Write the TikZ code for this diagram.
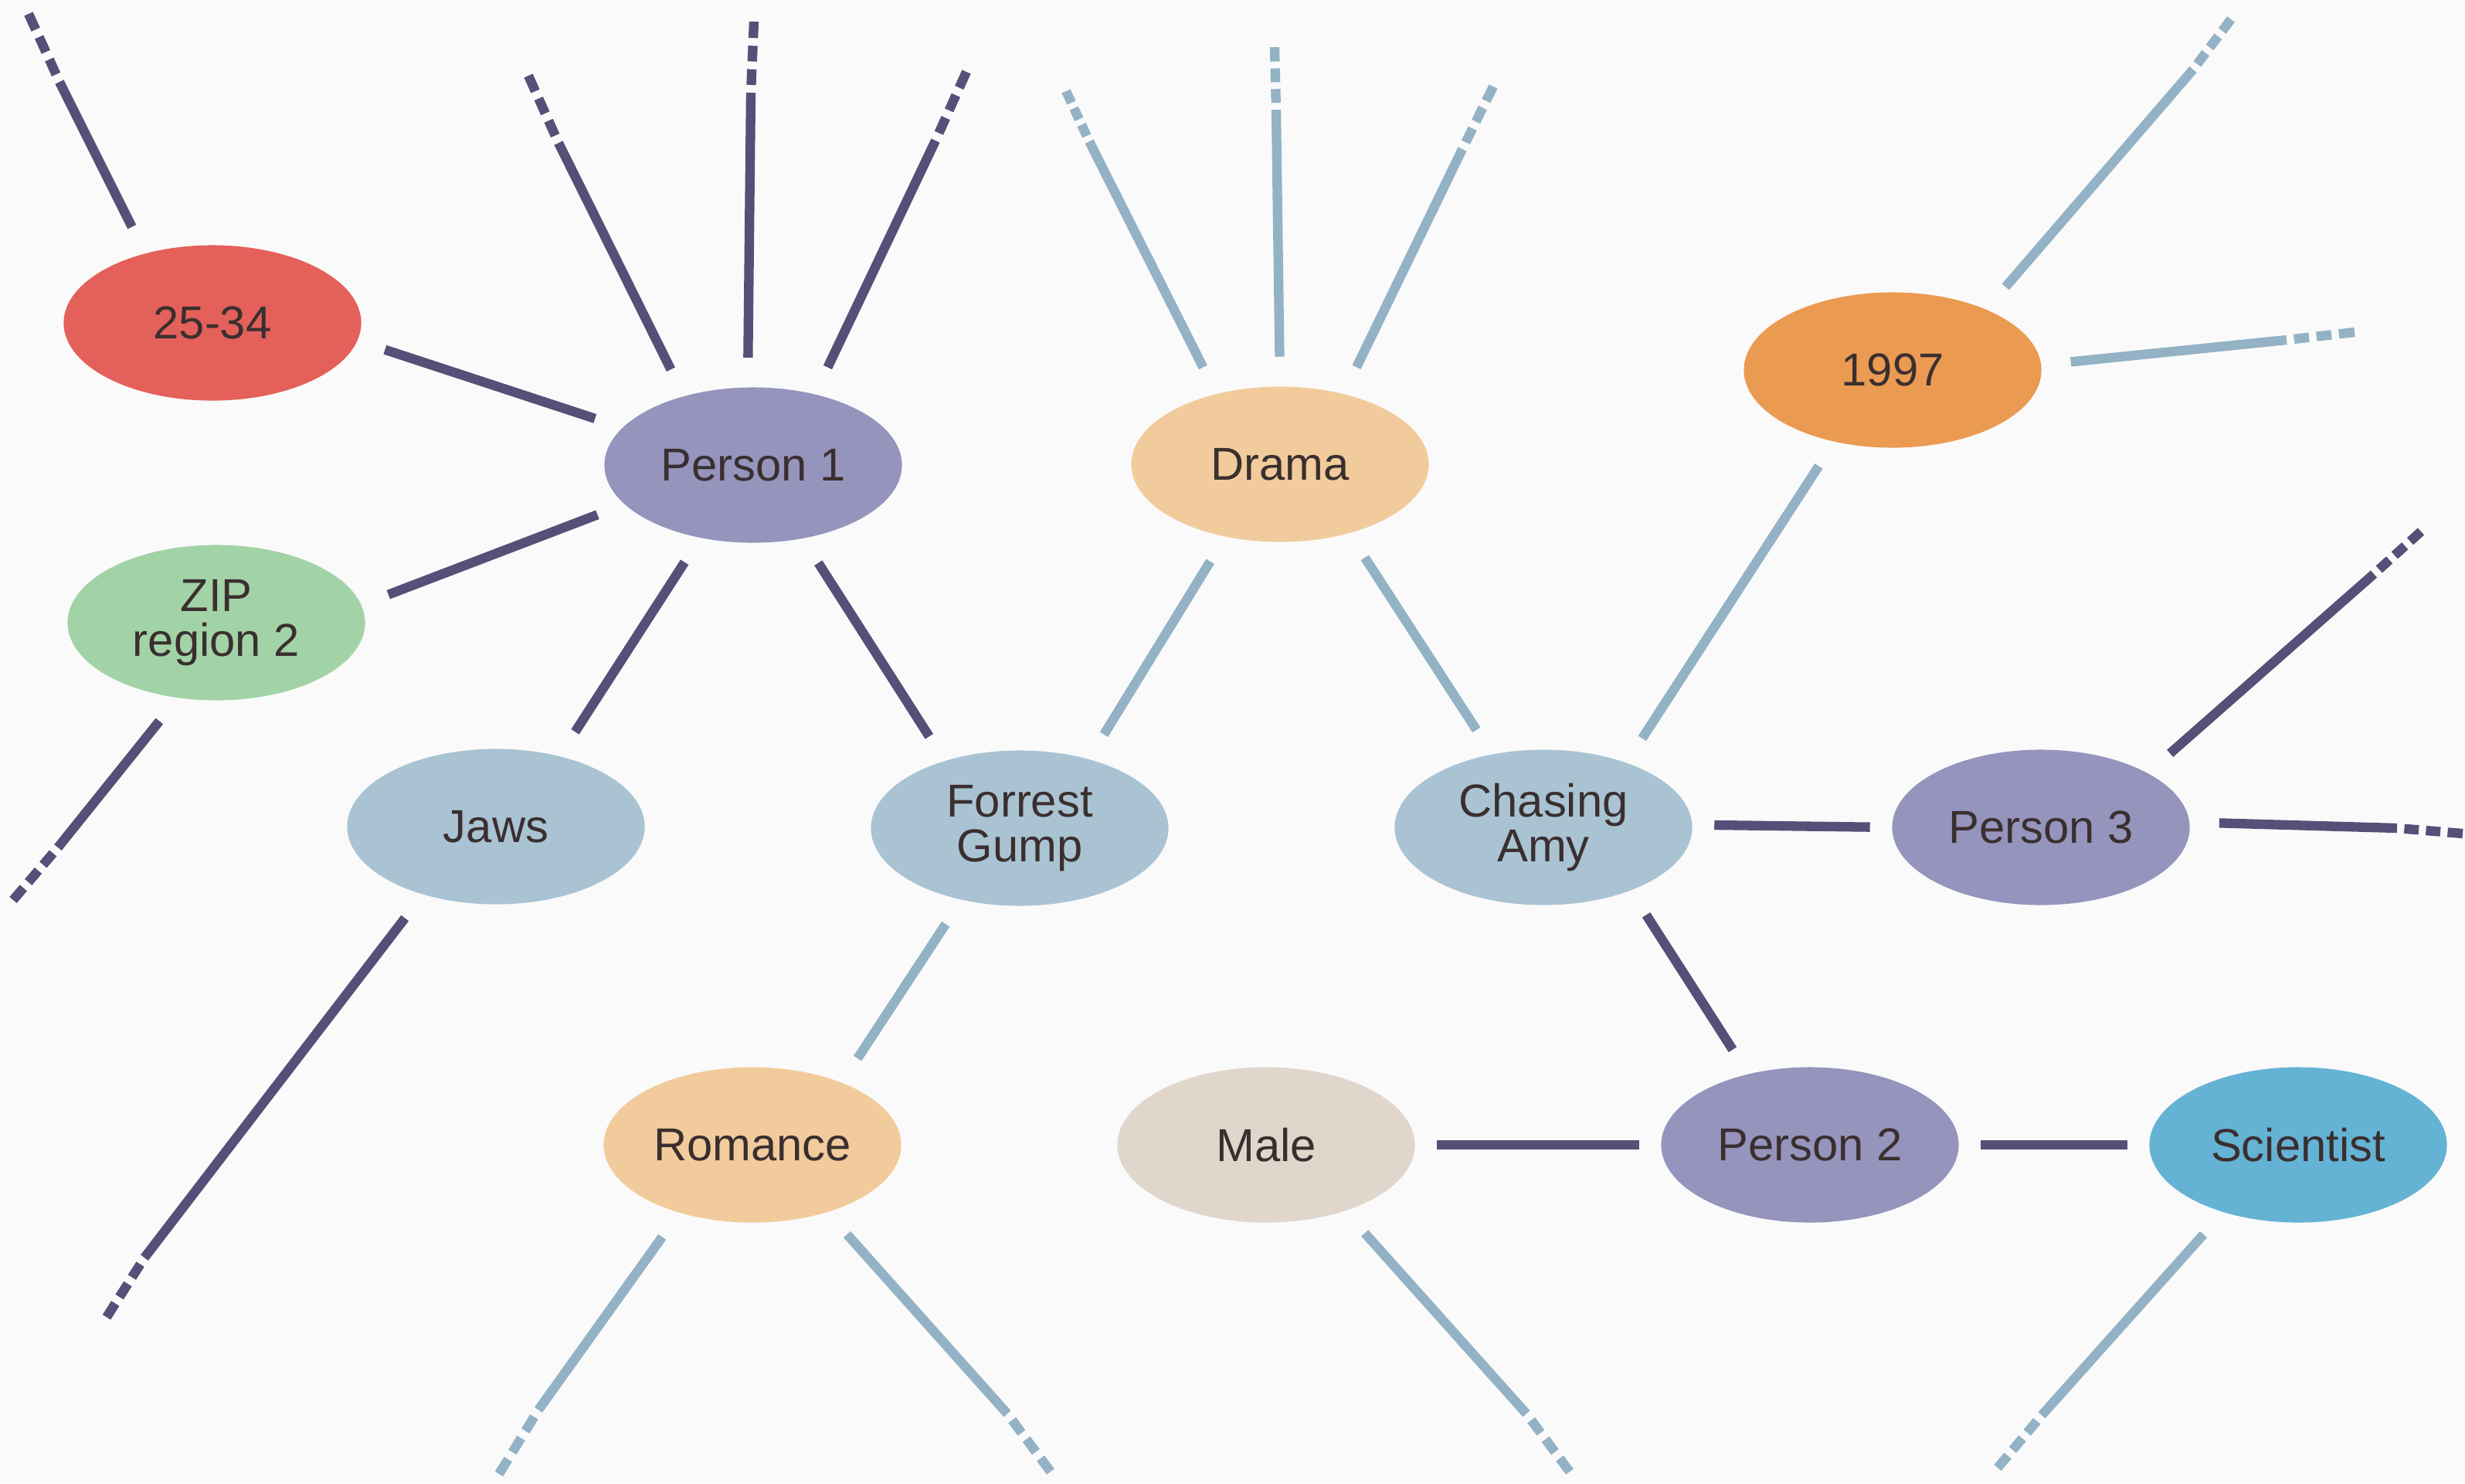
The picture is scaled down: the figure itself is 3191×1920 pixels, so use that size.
\documentclass[tikz,border=0pt]{standalone}
\usepackage{fontspec}
\setmainfont{Liberation Sans}
\usetikzlibrary{shapes.geometric,calc}
\definecolor{bgc}{RGB}{250,250,250}
\definecolor{darkln}{RGB}{84,80,119}
\definecolor{lightln}{RGB}{147,178,197}
\definecolor{txtc}{RGB}{58,47,47}
\definecolor{cred}{RGB}{228,96,90}
\definecolor{cpurple}{RGB}{149,148,189}
\definecolor{cgreen}{RGB}{162,211,166}
\definecolor{cmovie}{RGB}{169,195,211}
\definecolor{cgenre}{RGB}{242,203,156}
\definecolor{corange}{RGB}{235,154,82}
\definecolor{cmale}{RGB}{224,214,204}
\definecolor{csci}{RGB}{100,179,212}
\tikzset{
  ent/.style={ellipse, minimum width=3.85cm, minimum height=2.01cm, inner sep=0pt,
    draw=none, text=txtc, align=center, font=\fontsize{17}{16.5}\selectfont},
  dk/.style={draw=darkln, line width=3.5pt},
  lt/.style={draw=lightln, line width=3.5pt},
  edgegap/.style={shorten <=0.37cm, shorten >=0.37cm},
  hedgegap/.style={shorten <=0.28cm, shorten >=0.28cm},
  stubgap/.style={shorten <=0.38cm},
}
\newcommand{\dashtail}[3]{%
  \draw[#1] ($(#2)!0.11!(#3)$) -- ($(#2)!0.33!(#3)$)
            ($(#2)!0.44!(#3)$) -- ($(#2)!0.66!(#3)$)
            ($(#2)!0.77!(#3)$) -- (#3);}
\begin{document}
\begin{tikzpicture}[x=0.01cm, y=-0.01cm]
\fill[bgc] (0,0) rectangle (3191,1920);
\useasboundingbox (0,0) rectangle (3191,1920);

% nodes
\node[ent, fill=cred]    (n2534)   at (275,418)  {25-34};
\node[ent, fill=cpurple] (pone)    at (975,602)  {Person 1};
\node[ent, fill=cgreen]  (zip)     at (280,806)  {ZIP\\region 2};
\node[ent, fill=cmovie]  (jaws)    at (642,1070) {Jaws};
\node[ent, fill=cmovie]  (forrest) at (1320,1072) {Forrest\\Gump};
\node[ent, fill=cgenre]  (romance) at (974,1482) {Romance};
\node[ent, fill=cgenre]  (drama)   at (1657,601) {Drama};
\node[ent, fill=cmovie]  (chasing) at (1998,1071) {Chasing\\Amy};
\node[ent, fill=corange] (yr)      at (2450,479) {1997};
\node[ent, fill=cpurple] (pthree)  at (2642,1071) {Person 3};
\node[ent, fill=cmale]   (male)    at (1639,1482) {Male};
\node[ent, fill=cpurple] (ptwo)    at (2343,1482) {Person 2};
\node[ent, fill=csci]    (sci)     at (2975,1482) {Scientist};

% edges
\draw[dk,edgegap] (n2534.-7) -- (pone.164);
\draw[dk,edgegap] (zip.7) -- (pone.197);
\draw[dk,edgegap] (jaws.48) -- (pone.234);
\draw[dk,edgegap] (forrest.138) -- (pone.-56);
\draw[dk,hedgegap] (chasing.1) -- (pthree.180);
\draw[dk,edgegap] (chasing.-36) -- (ptwo.131);
\draw[dk,hedgegap] (male.0) -- (ptwo.180);
\draw[dk,hedgegap] (ptwo.0) -- (sci.180);
\draw[lt,edgegap] (drama.233) -- (forrest.45);
\draw[lt,edgegap] (drama.-45) -- (chasing.125);
\draw[lt,edgegap] (forrest.231) -- (romance.35);
\draw[lt,edgegap] (yr.231) -- (chasing.38);

% stub coordinates
\coordinate (s1m) at (77,106);    \coordinate (s1e) at (37,18);
\coordinate (s2m) at (723,185);   \coordinate (s2e) at (684,98);
\coordinate (s3m) at (972,120);   \coordinate (s3e) at (976,28);
\coordinate (s4m) at (1211,182);  \coordinate (s4e) at (1251,93);
\coordinate (s5m) at (75,1097);   \coordinate (s5e) at (17,1165);
\coordinate (s6m) at (187,1628);  \coordinate (s6e) at (138,1705);
\coordinate (s7m) at (3073,743);  \coordinate (s7e) at (3134,688);
\coordinate (s8m) at (3103,1072); \coordinate (s8e) at (3188,1079);
\coordinate (s9m) at (1410,183);  \coordinate (s9e) at (1380,118);
\coordinate (s10m) at (1652,142); \coordinate (s10e) at (1650,61);
\coordinate (s11m) at (1893,193); \coordinate (s11e) at (1933,112);
\coordinate (s12m) at (2839,90);  \coordinate (s12e) at (2888,25);
\coordinate (s13m) at (2960,440); \coordinate (s13e) at (3048,430);
\coordinate (s14m) at (697,1825); \coordinate (s14e) at (646,1908);
\coordinate (s15m) at (1304,1830);\coordinate (s15e) at (1360,1905);
\coordinate (s16m) at (1976,1830);\coordinate (s16e) at (2032,1905);
\coordinate (s17m) at (2643,1832);\coordinate (s17e) at (2586,1900);

% dark stubs
\draw[dk,stubgap] (n2534.134) -- (s1m); \dashtail{dk}{s1m}{s1e}
\draw[dk,stubgap] (pone.135) -- (s2m);  \dashtail{dk}{s2m}{s2e}
\draw[dk,stubgap] (pone.94) -- (s3m);   \dashtail{dk}{s3m}{s3e}
\draw[dk,stubgap] (pone.49) -- (s4m);   \dashtail{dk}{s4m}{s4e}
\draw[dk,stubgap] (zip.243) -- (s5m);   \dashtail{dk}{s5m}{s5e}
\draw[dk,stubgap] (jaws.223) -- (s6m);  \dashtail{dk}{s6m}{s6e}
\draw[dk,stubgap] (pthree.27) -- (s7m); \dashtail{dk}{s7m}{s7e}
\draw[dk,stubgap] (pthree.2) -- (s8m);  \dashtail{dk}{s8m}{s8e}

% light stubs
\draw[lt,stubgap] (drama.132) -- (s9m);   \dashtail{lt}{s9m}{s9e}
\draw[lt,stubgap] (drama.90) -- (s10m);   \dashtail{lt}{s10m}{s10e}
\draw[lt,stubgap] (drama.48) -- (s11m);   \dashtail{lt}{s11m}{s11e}
\draw[lt,stubgap] (yr.33) -- (s12m);      \dashtail{lt}{s12m}{s12e}
\draw[lt,stubgap] (yr.2) -- (s13m);       \dashtail{lt}{s13m}{s13e}
\draw[lt,stubgap] (romance.223) -- (s14m);\dashtail{lt}{s14m}{s14e}
\draw[lt,stubgap] (romance.-42) -- (s15m);\dashtail{lt}{s15m}{s15e}
\draw[lt,stubgap] (male.-40) -- (s16m);   \dashtail{lt}{s16m}{s16e}
\draw[lt,stubgap] (sci.222) -- (s17m);    \dashtail{lt}{s17m}{s17e}
\end{tikzpicture}
\end{document}
